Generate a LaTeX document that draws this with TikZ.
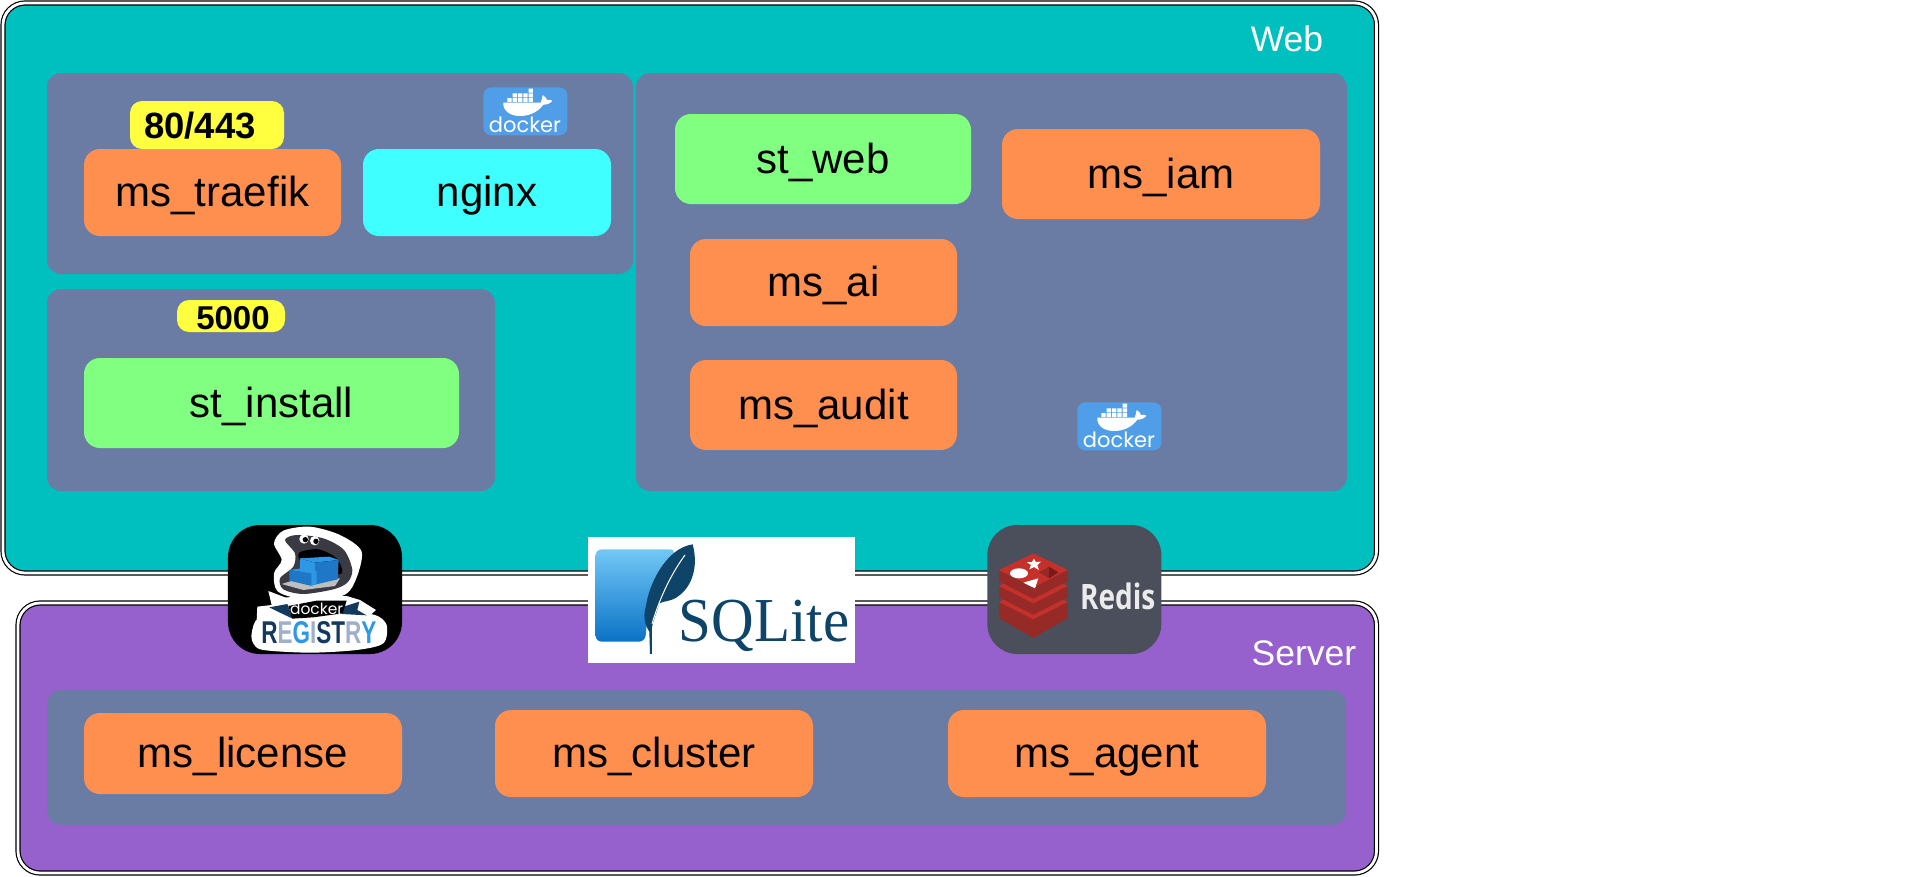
\documentclass[tikz,border=0pt]{standalone}
\usepackage{fontspec}
\usepackage{xcolor}
\setmainfont{Liberation Sans}
\newfontfamily\dockerfont{Poppins}
\newfontfamily\redisfont{Open Sans}
\newfontfamily\sqlitefont{Liberation Serif}
\usetikzlibrary{positioning}

\definecolor{webteal}{HTML}{00BFBF}
\definecolor{serverpurple}{HTML}{9661CC}
\definecolor{groupslate}{HTML}{6B7CA4}
\definecolor{msorange}{HTML}{FF8F4F}
\definecolor{stgreen}{HTML}{80FF80}
\definecolor{nginxcyan}{HTML}{40FFFF}
\definecolor{portyellow}{HTML}{FFFF40}
\definecolor{dockerblue}{HTML}{519EE8}
\definecolor{redisgrey}{HTML}{4B4F5C}
\definecolor{redisred}{HTML}{C6302B}
\definecolor{redisside}{HTML}{962A26}
\definecolor{redisdark}{HTML}{7A1A18}
\definecolor{sqlitenavy}{HTML}{0F4469}
\definecolor{sqlitetop}{HTML}{72C8F6}
\definecolor{sqlitebottom}{HTML}{0B72C6}
\definecolor{regnavy}{HTML}{14395F}
\definecolor{regblue}{HTML}{2E97E6}
\definecolor{regdeep}{HTML}{1F77C8}
\definecolor{reggrey}{HTML}{9FB0C8}
\definecolor{regshell}{HTML}{3A3A42}

\tikzset{
  box/.style={rounded corners=#1,inner sep=0pt,outer sep=0pt},
  box/.default=16pt,
  panel/.style={box=22pt,anchor=north west,draw=black,double=white,
    double distance=2.8pt,line width=1.2pt},
  group/.style={box=14pt,anchor=north west,fill=groupslate},
  service/.style={box,text height=36pt,text depth=8pt,
    font=\fontsize{42}{42}\selectfont},
  ms/.style={service,fill=msorange},
  st/.style={service,fill=stgreen},
  port/.style={box=12pt,fill=portyellow,text height=27pt,
    font=\fontsize{36.5}{36.5}\bfseries\selectfont},
  title/.style={inner sep=0pt,text=white,font=\fontsize{35.5}{36}\selectfont},
  zoomed/.style={x=0.3333pt,y=-0.3333pt},
  dockerlogo/.pic={
    \begin{scope}[zoomed]
      \node[box=8pt,anchor=north west,fill=dockerblue,minimum width=84pt,minimum height=48pt]
        (-box) at (40,22) {};
      \fill[white] (100,68) -- (212,68) .. controls (218,60) and (214,52) .. (218,45)
        .. controls (226,50) and (230,55) .. (231,60) .. controls (238,58) and (243,60) .. (247,62)
        .. controls (240,72) and (228,74) .. (220,74) .. controls (205,95) and (180,108) .. (150,108)
        .. controls (118,108) and (98,90) .. (100,68) -- cycle;
      \fill[white]
        (112,54) rectangle (125,66) (128,54) rectangle (141,66) (144,54) rectangle (157,66)
        (160,54) rectangle (173,66) (176,54) rectangle (189,66)
        (128,40) rectangle (141,52) (144,40) rectangle (157,52)
        (160,40) rectangle (173,52) (176,40) rectangle (189,52)
        (176,26) rectangle (189,38);
      \node[inner sep=0pt,text=white,font=\dockerfont\fontsize{21}{21}\selectfont]
        (-word) at (165,133) {docker};
    \end{scope}
  }
}

\begin{document}
\begin{tikzpicture}[x=1pt,y=-1pt]
  \useasboundingbox (0,0) rectangle (1920,876);
  % panels
  \node[panel,fill=webteal,minimum width=1373.5pt,minimum height=570pt]      (web)    at (3,3)    {};
  \node[panel,fill=serverpurple,minimum width=1358.5pt,minimum height=270pt] (server) at (18,603) {};
  \node[title] (web_title)    at (1287,39)  {Web};
  \node[title] (server_title) at (1304,653) {Server};
  % groups
  \node[group,minimum width=586pt,minimum height=201pt]  (edge_group)    at (47,73)   {};
  \node[group,minimum width=448pt,minimum height=202pt]  (install_group) at (47,289)  {};
  \node[group,minimum width=711pt,minimum height=418pt]  (app_group)     at (636,73)  {};
  \node[group,minimum width=1299pt,minimum height=135pt] (server_group)  at (47,690)  {};
  % web services
  \node[ms,anchor=north west,minimum width=257pt,minimum height=87pt] (ms_traefik) at (84,149) {ms\_traefik};
  \node[service,fill=nginxcyan,minimum width=248pt,minimum height=87pt] (nginx) [right=22pt of ms_traefik] {nginx};
  \node[port,minimum width=154pt,minimum height=48pt] (port_web) [above=0pt of ms_traefik,xshift=-5.5pt] {80/443\kern14pt};
  \node[st,anchor=north west,minimum width=375pt,minimum height=90pt] (st_install) at (84,358) {st\_install};
  \node[port,anchor=north west,minimum width=108pt,minimum height=32pt,font=\fontsize{33}{33}\bfseries\selectfont] (port_install) at (177,300) {\kern4pt 5000};
  \node[st,anchor=north west,minimum width=296pt,minimum height=90pt] (st_web) at (675,114) {st\_web};
  \node[ms,anchor=north west,minimum width=318pt,minimum height=90pt] (ms_iam) at (1002,129) {ms\_iam};
  \node[ms,anchor=north west,minimum width=267pt,minimum height=87pt] (ms_ai) at (690,239) {ms\_ai};
  \node[ms,minimum width=267pt,minimum height=90pt] (ms_audit) [below=34pt of ms_ai] {ms\_audit};
  % server services
  \node[ms,anchor=north west,minimum width=318pt,minimum height=81pt] (ms_license) at (84,713) {ms\_license};
  \node[ms,minimum width=318pt,minimum height=87pt] (ms_cluster) [right=93pt of ms_license] {ms\_cluster};
  \node[ms,minimum width=318pt,minimum height=87pt] (ms_agent)   [right=135pt of ms_cluster] {ms\_agent};
  % docker logos
  \pic (docker_edge) at (470,80)   {dockerlogo};
  \pic (docker_app)  at (1064,395) {dockerlogo};
  % registry logo
  \begin{scope}[shift={(200,510)},zoomed]
    \node[box=32pt,anchor=north west,fill=black,minimum width=174pt,minimum height=129pt] (registry) at (84,45) {};
    \fill[white] plot[smooth cycle] coordinates {(222,100)(250,62)(330,50)(420,75)(485,125)(465,215)(425,258)(300,265)(232,243)(222,190)(245,150)};
    \fill[white] (205,243) -- (255,262) -- (440,258) -- (480,270) -- (528,300) -- (500,325) -- (170,330) -- (172,290) -- (215,285) -- cycle;
    \fill[white] plot[smooth cycle] coordinates {(155,370)(175,325)(260,318)(440,310)(525,315)(560,345)(550,400)(470,420)(330,428)(190,420)(160,400)};
    \fill[regshell] plot[smooth cycle] coordinates {(255,90)(290,75)(370,85)(432,120)(457,180)(442,218)(400,238)(310,252)(250,238)(240,205)(280,170)(285,130)};
    \fill[black] plot[smooth cycle] coordinates {(298,128)(355,118)(410,145)(425,190)(360,190)(305,160)};
    \fill[black!25] (245,222) -- (300,205) -- (420,205) -- (405,228) -- (310,240) -- cycle;
    \fill[white] (312,87) circle (14) (344,92) circle (14);
    \fill[black] (316,89) circle (8) (348,94) circle (8);
    \fill[regblue] (300,145) -- (388,140) -- (416,150) -- (345,158) -- cycle;
    \fill[regdeep] (345,158) -- (416,150) -- (413,208) -- (345,224) -- cycle;
    \fill[regblue] (300,145) -- (345,158) -- (345,224) -- (300,215) -- cycle;
    \fill[regblue] (268,180) -- (325,172) -- (350,185) -- (335,190) -- cycle;
    \fill[regdeep] (268,180) -- (335,190) -- (335,228) -- (268,212) -- cycle;
    \fill[regblue] (335,190) -- (350,185) -- (350,222) -- (335,228) -- cycle;
    \fill[regnavy] (208,292) -- (262,282) -- (278,326) -- (240,308) -- cycle;
    \fill[regnavy] (425,312) -- (430,290) -- (478,275) -- (472,300) -- (500,316) -- cycle;
    \fill[black] (265,288) -- (350,272) -- (440,272) -- (428,310) -- (340,322) -- (277,326) -- cycle;
    \node[inner sep=0pt,text=white,font=\dockerfont\fontsize{15.5}{16}\selectfont] (registry_docker) at (350,297) {docker};
    \node[inner sep=0pt,yscale=1.4,transform shape,font=\fontsize{22.5}{23}\bfseries\selectfont] (registry_word) at (357,367)
      {\textcolor{regnavy}{R}\textcolor{reggrey}{E}\textcolor{regblue}{G}\textcolor{reggrey}{I}\textcolor{regnavy}{S}\textcolor{regnavy}{T}\textcolor{reggrey}{R}\textcolor{regblue}{Y}};
  \end{scope}
  % sqlite logo
  \begin{scope}[shift={(570,520)},zoomed]
    \node[anchor=north west,inner sep=0pt,outer sep=0pt,fill=white,minimum width=267pt,minimum height=126pt] (sqlite) at (54,52) {};
    \shade[top color=sqlitetop,bottom color=sqlitebottom,rounded corners=6pt] (77,88) -- (318,88) -- (238,240) -- (225,365) -- (77,365) -- cycle;
    \fill[sqlitenavy] (368,73) .. controls (385,135) and (370,200) .. (320,232) .. controls (300,245) and (285,242) .. (268,250)
      .. controls (258,285) and (250,300) .. (246,322) -- (246,402) -- (240,402) -- (238,335) .. controls (225,315) and (218,290) .. (228,258)
      .. controls (235,200) and (285,85) .. (368,73) -- cycle;
    \draw[white,line width=1pt] (246,312) .. controls (270,230) and (305,160) .. (345,105);
    \node[anchor=base west,inner sep=0pt,yscale=1.06,transform shape,text=sqlitenavy,font=\sqlitefont\fontsize{59}{60}\selectfont] (sqlite_word) at (326,365) {SQLite};
  \end{scope}
  % redis logo
  \begin{scope}[shift={(970,510)},zoomed]
    \node[box=30pt,anchor=north west,fill=redisgrey,minimum width=174pt,minimum height=129pt] (redis) at (52,45) {};
    % bottom layer
    \fill[redisside] (87,276) -- (87,324) -- (190,384) -- (293,324) -- (293,276) -- (190,328) -- cycle;
    \fill[redisred]  (87,276) -- (190,328) -- (293,276) -- (190,226) -- cycle;
    % middle layer
    \fill[redisside] (87,228) -- (87,262) -- (190,314) -- (293,262) -- (293,228) -- (190,280) -- cycle;
    \fill[redisred]  (87,228) -- (190,280) -- (293,228) -- (190,178) -- cycle;
    % top layer
    \fill[redisside] (87,180) -- (87,214) -- (190,266) -- (293,214) -- (293,180) -- (190,232) -- cycle;
    \fill[redisred]  (87,180) -- (190,232) -- (293,180) -- (190,130) -- cycle;
    \fill[white] (147,190) ellipse (27 and 15);
    \fill[white] (192,146) -- (197,156) -- (213,155) -- (202,166) -- (207,180) -- (192,171) -- (178,178) -- (183,165) -- (170,156) -- (186,156) -- cycle;
    \fill[white] (205,205) -- (160,218) -- (195,235) -- cycle;
    \fill[redisside] (207,187) -- (237,170) -- (237,205) -- cycle;
    \fill[redisdark] (237,170) -- (265,187) -- (237,205) -- cycle;
    \node[anchor=base west,inner sep=0pt,xscale=0.8,transform shape,text=white!92!black,font=\redisfont\fontsize{35}{35}\bfseries\selectfont] (redis_word) at (330,300) {Redis};
  \end{scope}
\end{tikzpicture}
\end{document}
